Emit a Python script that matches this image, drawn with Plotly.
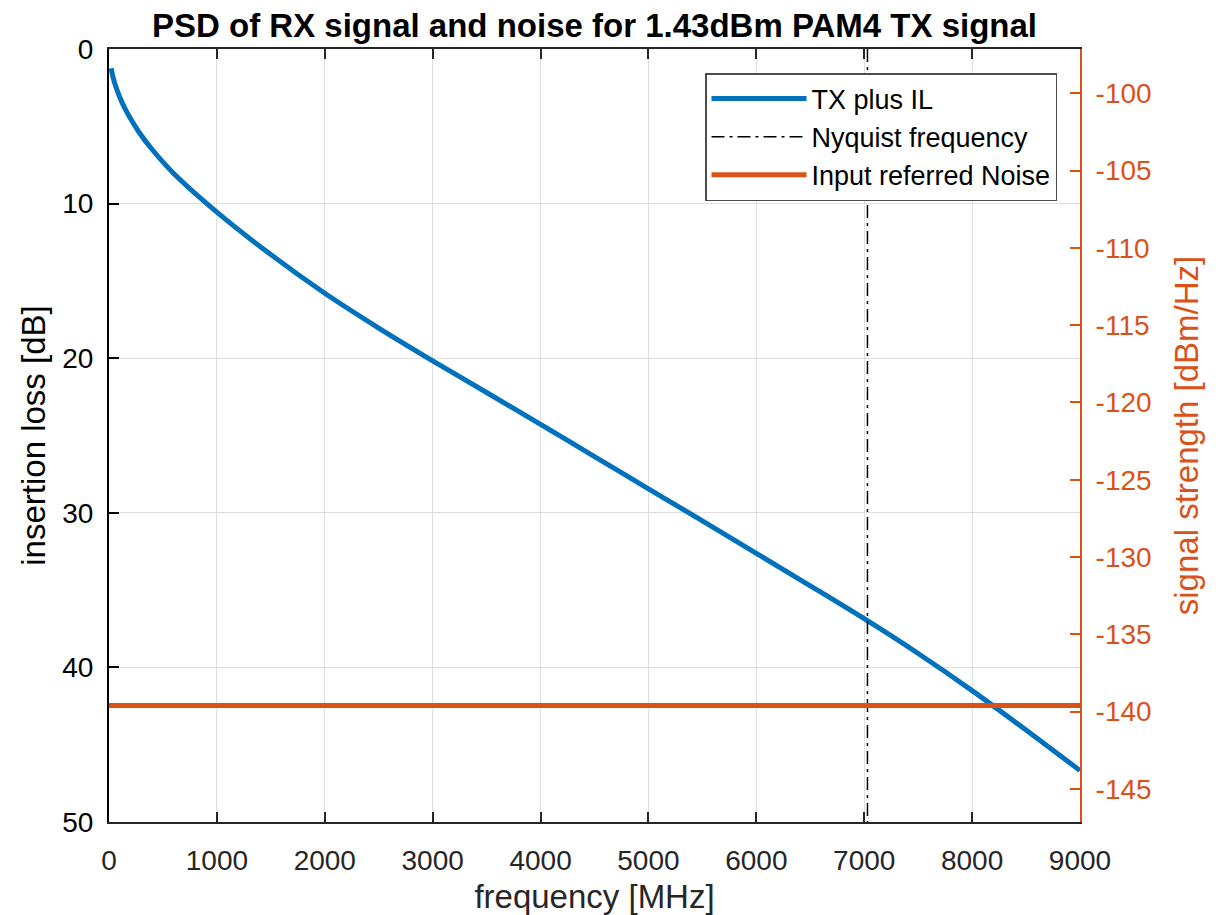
import plotly.graph_objects as go

# ---- data ----
freq_mhz = [20, 40, 60, 100, 150, 195, 280, 400, 600, 1000, 1500, 2000, 2500, 3000, 3500,
            4000, 4500, 5000, 5500, 6000, 6500, 7000, 7500, 8000, 8500, 9000]
insertion_loss_db = [1.25, 1.9, 2.36, 3.12, 3.88, 4.45, 5.4, 6.5, 8.05, 10.55, 13.3, 15.8,
                     18.05, 20.17, 22.22, 24.28, 26.36, 28.45, 30.52, 32.62, 34.72, 36.85,
                     39.1, 41.5, 44.05, 46.67]
nyquist_mhz = 7030
noise_x = [0, 9000]
noise_dbm_hz = [-139.6, -139.6]

x_ticks = [0, 1000, 2000, 3000, 4000, 5000, 6000, 7000, 8000, 9000]
il_ticks = [0, 10, 20, 30, 40, 50]
psd_ticks = [-100, -105, -110, -115, -120, -125, -130, -135, -140, -145]
psd_tick_text = ["-100", "-105", "-110", "-115", "-120", "-125", "-130", "-135", "-140", "-145"]
psd_range = [-147.14, -97.14]

BLUE = "#0072BD"
ORANGE = "#D95319"
DARK = "#262626"
GRID = "#dedede"
FONT = "Liberation Sans, Arial, sans-serif"

# page body has an 8px margin; figure is sized so the plot area lands where the reference has it
W, H = 1213, 907
ML, MR, MT, MB = 101, 141, 41, 93

fig = go.Figure()
fig.add_trace(go.Scatter(x=freq_mhz, y=insertion_loss_db, mode="lines",
                         name="TX plus IL", line=dict(color=BLUE, width=5, shape="spline", smoothing=0.8),
                         yaxis="y"))
fig.add_trace(go.Scatter(x=[nyquist_mhz, nyquist_mhz], y=[il_ticks[0], il_ticks[-1]],
                         mode="lines", name="Nyquist frequency",
                         line=dict(color="black", width=1.5, dash="13px,5px,3px,5px"),
                         yaxis="y"))
fig.add_trace(go.Scatter(x=noise_x, y=noise_dbm_hz, mode="lines",
                         name="Input referred Noise", line=dict(color=ORANGE, width=5),
                         yaxis="y2"))

fig.update_layout(
    width=W, height=H,
    paper_bgcolor="white", plot_bgcolor="white",
    margin=dict(l=ML, r=MR, t=MT, b=MB, autoexpand=False),
    font=dict(family=FONT, size=28, color=DARK),
    title=dict(text="<b>PSD of RX signal and noise for 1.43dBm PAM4 TX signal</b>",
               x=(ML + (W - MR)) / 2 / W, xanchor="center", y=1 - 17 / H, yanchor="middle",
               font=dict(family=FONT, size=33, color="black")),
    xaxis=dict(range=[0, 9000], tickvals=x_ticks, ticks="inside", ticklen=10,
               tickcolor=DARK, tickwidth=2, showline=True, linecolor=DARK, linewidth=2,
               mirror="ticks", showgrid=True, gridcolor=GRID, gridwidth=1, zeroline=False,
               tickfont=dict(size=28, color=DARK), ticklabelstandoff=12,
               title=dict(text="frequency [MHz]", font=dict(size=33, color=DARK), standoff=10)),
    yaxis=dict(range=[50, 0], tickvals=il_ticks, ticks="inside", ticklen=10,
               tickcolor="black", tickwidth=2, showline=True, linecolor="black", linewidth=2,
               showgrid=True, gridcolor=GRID, gridwidth=1, zeroline=False,
               tickfont=dict(size=28, color="black"), ticklabelstandoff=8,
               title=dict(text="insertion loss [dB]", font=dict(size=33, color="black"), standoff=7)),
    yaxis2=dict(range=psd_range, tickvals=psd_ticks, ticktext=psd_tick_text,
                overlaying="y", side="right",
                ticks="inside", ticklen=10, tickcolor=ORANGE, tickwidth=2,
                showline=True, linecolor=ORANGE, linewidth=2, showgrid=False, zeroline=False,
                tickfont=dict(size=28, color=ORANGE), ticklabelstandoff=8,
                title=dict(text="signal strength [dBm/Hz]", font=dict(size=33, color=ORANGE), standoff=24)),
    legend=dict(x=(1057 - 109) / 971, xanchor="right", y=(822 - 73) / 773, yanchor="top",
                bgcolor="white", bordercolor="#4d4d4d", borderwidth=1.5,
                font=dict(size=27, color="black"), tracegroupgap=0, itemwidth=95),
    showlegend=True,
)

fig.write_html("out.html")
